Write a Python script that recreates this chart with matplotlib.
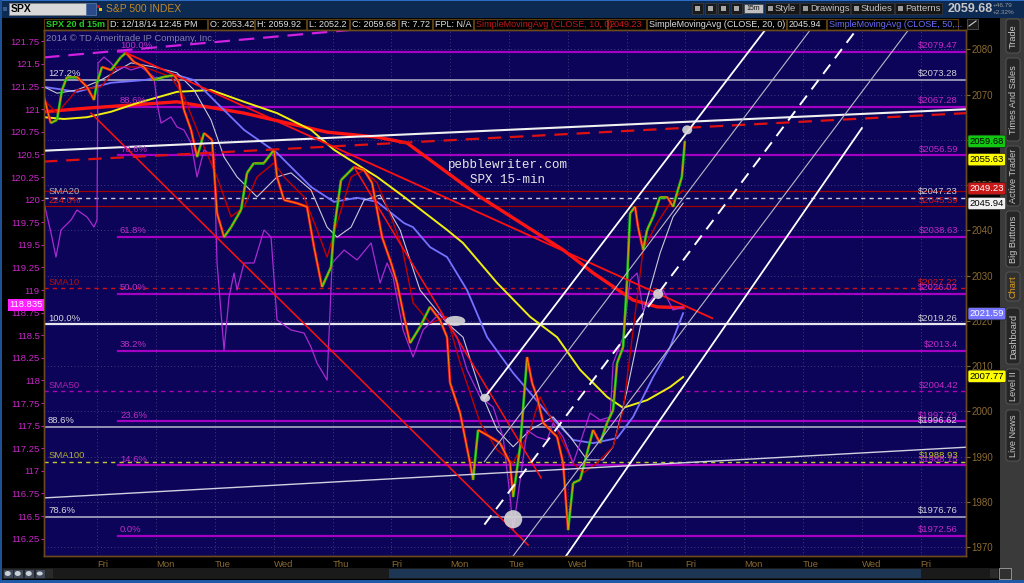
import numpy as np
import matplotlib
matplotlib.use("Agg")
import matplotlib.pyplot as plt
from matplotlib.collections import LineCollection
from matplotlib.patches import Rectangle, Ellipse, FancyBboxPatch
from matplotlib.transforms import blended_transform_factory as blend

plt.rcParams['font.family'] = ['Liberation Sans', 'DejaVu Sans']

# ---------------- data ----------------
day_labels = ['Fri', 'Mon', 'Tue', 'Wed', 'Thu', 'Fri', 'Mon', 'Tue', 'Wed', 'Thu',
              'Fri', 'Mon', 'Tue', 'Wed', 'Fri']
day_ticks = list(range(len(day_labels)))

price_day = [-0.906, -0.793, -0.685, -0.600, -0.515, -0.345, -0.175, -0.056, -0.005, 0.080,
             0.233, 0.403, 0.488, 0.624, 0.794, 0.964, 1.134, 1.304, 1.389, 1.474,
             1.594, 1.696, 1.815, 1.951, 2.036, 2.155, 2.274, 2.444, 2.546, 2.665,
             2.835, 3.005, 3.056, 3.175, 3.396, 3.566, 3.685, 3.821, 3.974, 4.025,
             4.144, 4.366, 4.536, 4.672, 4.757, 4.842, 4.995, 5.097, 5.216, 5.318,
             5.488, 5.658, 5.828, 5.947, 5.998, 6.168, 6.338, 6.389, 6.474, 6.678,
             6.849, 7.019, 7.070, 7.189, 7.308, 7.393, 7.478, 7.580, 7.699, 7.818,
             7.920, 8.005, 8.090, 8.209, 8.328, 8.430, 8.549, 8.668, 8.770, 8.838,
             8.940, 9.008, 9.059, 9.144, 9.195, 9.280, 9.348, 9.450, 9.569, 9.688,
             9.790, 9.871, 9.939, 9.990]
price_val = [2069.5, 2063.7, 2064.4, 2071.0, 2073.9, 2073.9, 2071.7, 2068.8, 2072.6, 2076.1,
             2075.4, 2078.3, 2079.2, 2077.2, 2076.1, 2073.2, 2073.9, 2074.3, 2072.6, 2066.6,
             2062.2, 2056.2, 2061.5, 2060.0, 2043.8, 2038.5, 2040.7, 2044.5, 2052.7, 2054.9,
             2054.9, 2057.8, 2051.8, 2046.7, 2046.0, 2045.2, 2036.3, 2027.5, 2031.9, 2040.1,
             2051.1, 2054.0, 2053.3, 2050.5, 2044.5, 2038.5, 2032.8, 2028.4, 2020.9, 2015.1,
             2018.7, 2023.1, 2020.2, 2016.4, 2006.3, 1999.7, 1988.6, 1984.9, 1995.9, 1994.4,
             1993.0, 1988.6, 1981.1, 1992.2, 2012.0, 2006.3, 2003.2, 1997.5, 1995.9, 1994.4,
             1988.6, 1973.8, 1984.2, 1984.9, 1990.8, 1995.9, 1993.0, 1997.5, 2000.3, 2010.7,
             2014.2, 2029.0, 2043.8, 2045.2, 2040.7, 2035.7, 2040.1, 2043.0, 2047.4, 2047.4,
             2045.2, 2048.9, 2051.8, 2059.7]

sma10_day = [-0.906, -0.685, -0.345, 0.063, 0.335, 0.794, 1.253, 1.474, 1.764, 2.036,
             2.274, 2.495, 2.716, 3.005, 3.175, 3.515, 3.736, 3.907, 4.077, 4.315,
             4.536, 4.757, 4.995, 5.182, 5.369, 5.658, 5.947, 6.168, 6.509, 6.798,
             7.070, 7.359, 7.529, 7.818, 8.090, 8.260, 8.498, 8.770, 8.940, 9.110,
             9.280, 9.518, 9.739, 9.960]
sma10_val = [2068.8, 2065.9, 2071.0, 2071.7, 2076.1, 2076.1, 2073.9, 2069.5, 2060.0, 2051.8,
             2043.0, 2045.2, 2051.8, 2054.9, 2051.8, 2047.4, 2040.1, 2034.1, 2041.6, 2051.8,
             2053.3, 2050.5, 2043.0, 2036.3, 2024.0, 2019.5, 2020.9, 2010.7, 1997.5, 1991.5,
             1988.6, 1995.9, 2003.2, 1995.9, 1988.6, 1986.4, 1988.6, 1992.2, 2000.3, 2018.0,
             2035.7, 2041.6, 2046.0, 2048.9]

sma20_day = [-0.906, -0.685, -0.345, 0.063, 0.573, 0.964, 1.355, 1.645, 1.934, 2.155,
             2.376, 2.716, 3.056, 3.294, 3.634, 3.907, 4.077, 4.315, 4.536, 4.808,
             5.148, 5.488, 5.947, 6.219, 6.509, 6.798, 7.070, 7.359, 7.750, 8.039,
             8.328, 8.600, 8.770, 9.008, 9.280, 9.569, 9.790, 9.960]
sma20_val = [2071.7, 2070.3, 2071.0, 2073.2, 2077.0, 2076.1, 2074.8, 2071.0, 2064.4, 2056.2,
             2051.8, 2047.4, 2051.8, 2052.7, 2048.9, 2040.7, 2038.5, 2040.7, 2046.7, 2047.8,
             2040.1, 2026.8, 2019.5, 2016.4, 2004.7, 1995.9, 1992.2, 1995.9, 1998.8, 1994.4,
             1989.3, 1989.3, 1992.2, 2004.7, 2021.7, 2035.0, 2043.0, 2046.0]

sma50_day = [-0.906, -0.345, 0.233, 0.794, 1.355, 1.645, 2.036, 2.495, 3.056, 3.634,
             4.025, 4.417, 4.757, 5.216, 5.369, 5.658, 5.947, 6.287, 6.628, 7.070,
             7.648, 8.090, 8.430, 8.838, 9.110, 9.450, 9.739, 9.960]
sma50_val = [2071.7, 2070.6, 2072.6, 2073.2, 2074.3, 2073.2, 2068.1, 2062.2, 2057.1, 2049.6,
             2046.3, 2047.2, 2046.3, 2041.6, 2040.7, 2036.3, 2034.1, 2026.8, 2016.4, 2008.5,
             1999.7, 1993.7, 1993.0, 1994.1, 1998.8, 2007.6, 2014.2, 2021.7]

sma100_day = [-0.906, -0.566, -0.175, 0.233, 0.675, 1.355, 1.934, 2.495, 3.056, 3.634,
              4.025, 4.484, 4.757, 5.216, 5.947, 6.219, 6.797, 7.359, 7.818, 8.209,
              8.668, 8.940, 9.348, 9.739, 9.960]
sma100_val = [2065.0, 2064.6, 2065.0, 2066.2, 2068.1, 2070.6, 2071.0, 2068.4, 2065.9, 2062.2,
              2057.8, 2054.0, 2051.8, 2047.4, 2040.1, 2037.2, 2028.4, 2020.9, 2016.4, 2009.2,
              2003.2, 2000.8, 2002.5, 2005.4, 2007.6]

sma200_day = [-0.906, -0.175, 1.355, 2.495, 3.907, 4.757, 5.267, 6.509, 7.920, 8.430,
              9.110, 9.520, 9.960]
sma200_val = [2066.2, 2067.0, 2068.4, 2065.9, 2061.7, 2060.6, 2059.3, 2047.4, 2035.7, 2030.6,
              2024.6, 2023.1, 2022.9]

jpy_day = [-0.906, -0.787, -0.702, -0.617, -0.447, -0.345, -0.175, -0.056, -0.005, 0.012,
           0.114, 0.233, 0.335, 0.454, 0.573, 0.743, 0.964, 1.015, 1.083, 1.253,
           1.355, 1.474, 1.594, 1.696, 1.815, 1.985, 2.036, 2.155, 2.240, 2.325,
           2.376, 2.495, 2.665, 2.835, 2.954, 3.056, 3.294, 3.515, 3.634, 3.736,
           3.907, 3.992, 4.196, 4.417, 4.655, 4.808, 4.927, 5.029, 5.199, 5.369,
           5.539, 5.828, 6.117, 6.287, 6.509, 6.730, 6.900, 7.019, 7.070, 7.189,
           7.308, 7.478, 7.648, 7.750, 7.920, 8.090, 8.209, 8.378, 8.549, 8.719,
           8.770, 8.940, 9.059, 9.178, 9.280, 9.450, 9.620, 9.790, 9.960]
jpy_val = [119.962, 119.631, 119.365, 119.664, 119.774, 119.885, 119.808, 119.697, 119.774, 121.511,
           121.577, 121.511, 121.434, 121.467, 121.434, 121.467, 121.356, 121.069, 120.847, 120.914,
           120.803, 120.770, 120.626, 120.250, 120.549, 120.471, 119.299, 118.336, 118.923, 119.188,
           119.000, 119.299, 119.299, 119.664, 119.586, 118.668, 118.558, 118.524, 118.369, 118.192,
           118.004, 119.299, 119.442, 119.332, 119.520, 119.077, 119.299, 119.144, 118.558, 118.259,
           118.558, 118.746, 118.480, 118.115, 117.816, 117.706, 117.374, 116.710, 116.345, 116.898,
           117.451, 117.374, 117.341, 117.529, 117.374, 117.086, 117.308, 117.639, 117.562, 117.595,
           118.192, 118.480, 119.111, 119.188, 118.779, 118.923, 119.000, 118.779, 118.812]

fib_mag_val = [2079.47, 2067.28, 2056.59, 2038.63, 2026.02, 2013.4, 1997.79, 1988.15, 1972.56]
fib_mag_pct = ['100.0%', '88.6%', '78.6%', '61.8%', '50.0%', '38.2%', '23.6%', '14.6%', '0.0%']
fib_wht_val = [2073.28, 2019.26, 1996.62, 1976.76]
fib_wht_pct = ['127.2%', '100.0%', '88.6%', '78.6%']

level_val = [2048.7, 2047.23, 2045.39, 2027.22, 2004.42, 1988.93]
level_lbl = ['', 'SMA20', '224.0%', 'SMA10', 'SMA50', 'SMA100']

dollar_val = [2079.47, 2073.28, 2067.28, 2056.59, 2047.23, 2045.39, 2038.63, 2027.22, 2026.02,
              2019.26, 2013.4, 2004.42, 1997.79, 1996.62, 1988.93, 1988.15, 1976.76, 1972.56]
dollar_kind = ['m', 'w', 'm', 'm', 'w', 'r', 'm', 'r', 'm', 'w', 'm', 'm', 'm', 'w', 'y', 'm', 'w', 'm']

trend_d0 = [-0.906, -0.906, -0.906, -0.906, 0.490, -0.107, 4.366, 6.582, 6.582, 6.582, 7.070, 7.970]
trend_v0 = [1980.9, 2057.6, 2055.2, 2078.2, 2079.2, 2065.9, 2054.0, 2003.0, 1988.9, 1975.0, 1968.07, 1968.07]
trend_d1 = [14.77, 14.77, 14.77, 5.147, 10.455, 7.325, 7.546, 11.355, 12.121, 12.903, 13.79, 13.0]
trend_v1 = [1992.1, 2066.75, 2065.9, 2085.26, 2020.6, 1970.5, 1985.3, 2084.26, 2084.26, 2084.26, 2084.26, 2062.6]

oval_day = [6.087, 6.594, 7.070, 9.536, 10.03]
oval_val = [2020.0, 2003.0, 1976.2, 2025.95, 2062.2]

badge_val = [2059.68, 2055.63, 2049.23, 2045.94, 2021.59, 2007.77]
jpy_last = 118.835

spx_ticks = [1970, 1980, 1990, 2000, 2010, 2020, 2030, 2040, 2050, 2060, 2070, 2080]
jpy_ticks = [116.25, 116.5, 116.75, 117, 117.25, 117.5, 117.75, 118, 118.25, 118.5, 118.75,
             119, 119.25, 119.5, 119.75, 120, 120.25, 120.5, 120.75, 121, 121.25, 121.5, 121.75]

# ---------------- figure ----------------
W, H = 1024, 583
fig = plt.figure(figsize=(W / 100, H / 100), dpi=100)
fig.patch.set_facecolor('#000000')

ui = fig.add_axes([0, 0, 1, 1])
ui.set_xlim(0, W); ui.set_ylim(H, 0); ui.axis('off'); ui.set_zorder(0)

BG = '#0c0458'
BROWN = '#8a6a32'
ax = fig.add_axes([44 / W, (H - 556) / H, (966 - 44) / W, (556 - 30) / H])
ax.set_zorder(2)
ax.set_facecolor(BG)
ax.set_xlim(-0.906, 14.77)
ax.set_ylim(1968.07, 2084.26)
ax2 = ax.twinx()
ax2.set_ylim(116.058, 121.876)
for a in (ax, ax2):
    for s in a.spines.values():
        s.set_color('#6a4a1c'); s.set_linewidth(1.0)

ax.yaxis.tick_right()
ax.set_yticks(spx_ticks)
ax.set_yticklabels([str(t) for t in spx_ticks])
ax.tick_params(axis='y', colors=BROWN, labelsize=7, length=3, pad=1, labelcolor=BROWN)
ax2.yaxis.tick_left()
ax2.set_yticks(jpy_ticks)
ax2.set_yticklabels([f'{t:g}' for t in jpy_ticks])
ax2.tick_params(axis='y', colors='#c020c0', labelsize=6.8, length=2, pad=1, labelcolor='#c828c8')
ax.set_xticks(day_ticks)
ax.set_xticklabels(day_labels)
ax.tick_params(axis='x', colors=BROWN, labelsize=6.8, length=0, pad=3, labelcolor=BROWN)
for lab in ax.get_xticklabels():
    lab.set_ha('left')

# grid
for d in day_ticks:
    ax.axvline(d, color='#50508a', lw=0.6, ls=(0, (1, 3)), zorder=0.5)
for t in spx_ticks:
    ax.axhline(t, color='#50508a', lw=0.6, ls=(0, (1, 3)), zorder=0.5)

xb = blend(ax.transAxes, ax.transData)

# horizontal fib levels
for v, p in zip(fib_mag_val, fib_mag_pct):
    ax.plot([0.36, 14.77], [v, v], color='#a400c4', lw=1.6, zorder=1)
    ax.annotate(p, (0.386, v), xytext=(0, 1), textcoords='offset points', color='#c030c8',
                fontsize=6.8, va='bottom', ha='left', zorder=8)
for i, (v, p) in enumerate(zip(fib_wht_val, fib_wht_pct)):
    ax.axhline(v, color='#e6e6f0' if i == 1 else '#b8b8cc', lw=1.6 if i == 1 else 1.1, zorder=1.2)
    ax.annotate(p, (-0.838, v), xytext=(0, 1), textcoords='offset points', color='#d8d8e0',
                fontsize=6.8, va='bottom', ha='left', zorder=8)

lvl_style = [('#a00000', '-', 0.9), ('#c8c8d8', (0, (3, 3)), 1.0), ('#a00000', '-', 0.9),
             ('#d01010', (0, (3, 3)), 1.0), ('#b000b8', (0, (3, 3)), 1.0), ('#c8c830', (0, (3, 3)), 1.0)]
lvl_txt = ['#b0b0b0', '#b0b0b0', '#d02020', '#b01010', '#b020b0', '#b0b030']
for v, l, (c, ls, lw), tc in zip(level_val, level_lbl, lvl_style, lvl_txt):
    ax.axhline(v, color=c, ls=ls, lw=lw, zorder=1.1)
    if l:
        ax.annotate(l, (-0.825, v), xytext=(0, 1), textcoords='offset points', color=tc,
                    fontsize=6.8, va='bottom', ha='left', zorder=8)

kind_col = {'m': '#c428c8', 'w': '#d0d0d8', 'r': '#d01818', 'y': '#c8c820'}
for v, k in zip(dollar_val, dollar_kind):
    ax.annotate(f'${v:g}', (0.9915, v), xycoords=xb, xytext=(0, 1), textcoords='offset points',
                color=kind_col[k], fontsize=6.8, va='bottom', ha='right', zorder=8)

# moving averages
ax.plot(sma200_day, sma200_val, color='#ff1414', lw=2.4, zorder=2.2)
ax.plot(sma100_day, sma100_val, color='#eeee10', lw=1.4, zorder=2.3)
ax.plot(sma50_day, sma50_val, color='#7472ff', lw=1.3, zorder=2.4)
ax.plot(sma20_day, sma20_val, color='#c8c8d8', lw=0.8, zorder=2.5)
ax.plot(sma10_day, sma10_val, color='#c00000', lw=1.0, zorder=2.6)

# second instrument on left scale
jtr = blend(ax.transData, ax2.transData)
ax.plot(jpy_day, jpy_val, color='#a82ad0', lw=0.9, transform=jtr, zorder=3)

# price
pts = np.column_stack([price_day, price_val])
segs = [pts[i:i + 2] for i in range(len(pts) - 1)]
cols = ['#10c010' if pts[i + 1, 1] >= pts[i, 1] else '#f01818' for i in range(len(pts) - 1)]
ax.add_collection(LineCollection(segs, colors=cols, linewidths=1.9, zorder=4))
ax.plot(price_day, price_val, color='#ff9a00', lw=0.7, alpha=0.85, zorder=4.1)

# trendlines / channel
tr_style = [('#d0d0e0', '-', 1.0), ('#f0f0f0', '-', 1.5), ('#e01010', (0, (6, 4)), 1.6),
            ('#d020e0', (0, (7, 4)), 1.6), ('#ff1010', '-', 1.3), ('#ff1010', '-', 1.1),
            ('#ff1010', '-', 1.1), ('#ffffff', '-', 1.3), ('#b8b8c8', '-', 0.8),
            ('#ffffff', (0, (6, 4)), 1.4), ('#b8b8c8', '-', 0.8), ('#ffffff', '-', 1.3)]
for d0, v0, d1, v1, (c, ls, lw) in zip(trend_d0, trend_v0, trend_d1, trend_v1, tr_style):
    ax.plot([d0, d1], [v0, v1], color=c, ls=ls, lw=lw, zorder=5)

oval_size = [(0.34, 2.2), (0.17, 1.8), (0.31, 4.0), (0.17, 2.2), (0.17, 2.0)]
for d, v, (w, h) in zip(oval_day, oval_val, oval_size):
    ax.add_patch(Ellipse((d, v), w, h, facecolor='#d8d8d8', edgecolor='none', alpha=0.9, zorder=6))

ax.text(-0.87, 2082.4, '2014 \u00a9 TD Ameritrade IP Company, Inc.', color='#8080a8',
        fontsize=6.8, va='center', ha='left', zorder=8)
ax.text(0.503, 0.729, 'pebblewriter.com\nSPX 15-min', transform=ax.transAxes, color='#e8e8e8',
        fontsize=9, family='Liberation Mono', ha='center', va='center', linespacing=1.25,
        zorder=8)

# badges on axes
badge_fc = ['#10c810', '#ffff00', '#c81818', '#f0f0f0', '#7474ff', '#ffff00']
badge_tc = ['#000000', '#000000', '#ffffff', '#000000', '#ffffff', '#000000']
for v, fc, tc in zip(badge_val, badge_fc, badge_tc):
    ax.text(1.004, v, f'{v:.2f}', transform=xb, color=tc, fontsize=6.8, va='center', ha='left',
            clip_on=False, zorder=20,
            bbox=dict(boxstyle='round,pad=0.18', fc=fc, ec='#202020', lw=0.5))
ax2.text(-0.0015, jpy_last, f'{jpy_last:.3f}', transform=blend(ax.transAxes, ax2.transData),
         color='#ffffff', fontsize=6.8, va='center', ha='right', clip_on=False, zorder=20,
         bbox=dict(boxstyle='square,pad=0.15', fc='#ff20ff', ec='none'))

# ---------------- UI chrome ----------------
ui.add_patch(Rectangle((0, 0), W, 18, fc='#0c2a52', ec='none'))
ui.add_patch(Rectangle((0, 0), W, 1.2, fc='#2c6cc4', ec='none'))
ui.add_patch(Rectangle((0, 0), 2.2, H, fc='#1e5294', ec='none', zorder=3))
ui.add_patch(Rectangle((0, 580), W, 3, fc='#1e5aa8', ec='none', zorder=3))
ui.add_patch(Rectangle((2, 18), W, 12, fc='#000000', ec='none'))
ui.add_patch(Rectangle((3, 7), 4, 4, fc='#3a5a8a', ec='none'))
ui.add_patch(Rectangle((9, 3), 77, 11.5, fc='#d8d8d8', ec='#808080', lw=0.5))
ui.text(11, 9, 'SPX', color='#000000', fontsize=7.5, va='center', ha='left', fontweight='bold')
ui.add_patch(Rectangle((86, 3), 10, 11.5, fc='#2a4a8a', ec='#6080b0', lw=0.5))
ui.add_patch(Rectangle((97, 5), 3, 3, fc='#d01010', ec='none'))
ui.add_patch(Rectangle((99, 8), 3, 3, fc='#e0d010', ec='none'))
ui.text(106, 9, 'S&P 500 INDEX', color='#c08828', fontsize=7.5, va='center', ha='left')

for x0, x1 in [(692, 703), (705, 716), (718, 729), (731, 742)]:
    ui.add_patch(Rectangle((x0, 3), x1 - x0, 11, fc='#1a1a1a', ec='#404040', lw=0.5))
    ui.add_patch(Rectangle((x0 + 3, 6), x1 - x0 - 6, 5, fc='#a8a8a8', ec='none'))
ui.add_patch(Rectangle((744, 4), 19, 9, fc='#c0c0c0', ec='#404040', lw=0.5))
ui.text(753.5, 8.7, '15m', color='#101010', fontsize=5, va='center', ha='center')
for x0, x1, t in [(765, 799, 'Style'), (800, 850, 'Drawings'), (851, 894, 'Studies'),
                  (895, 942, 'Patterns')]:
    ui.add_patch(Rectangle((x0, 3), x1 - x0, 11, fc='#161616', ec='#3a3a3a', lw=0.5))
    ui.add_patch(Rectangle((x0 + 3, 6), 5, 5, fc='#9a9a9a', ec='none'))
    ui.text(x0 + 10, 8.7, t, color='#c4c4c4', fontsize=6.8, va='center', ha='left')
ui.text(948, 9, '2059.68', color='#c8c8c8', fontsize=9, va='center', ha='left', fontweight='bold')
ui.text(993, 5.5, '+46.79', color='#9a9a9a', fontsize=4.6, va='center', ha='left')
ui.text(993, 13, '+2.32%', color='#9a9a9a', fontsize=4.6, va='center', ha='left')

boxes = [(44, 107, 'SPX 20 d 15m', '#24cc24'), (108, 207, 'D: 12/18/14 12:45 PM', '#e0e0e0'),
         (208, 254, 'O: 2053.42', '#e0e0e0'), (255, 306, 'H: 2059.92', '#e0e0e0'),
         (307, 349, 'L: 2052.2', '#e0e0e0'), (350, 398, 'C: 2059.68', '#e0e0e0'),
         (399, 432, 'R: 7.72', '#e0e0e0'), (433, 473, 'FPL: N/A', '#e0e0e0'),
         (474, 607, 'SimpleMovingAvg (CLOSE, 10, 0)', '#c01818'), (608, 646, '2049.23', '#d01818'),
         (647, 786, 'SimpleMovingAvg (CLOSE, 20, 0)', '#e0e0e0'), (787, 826, '2045.94', '#e0e0e0'),
         (827, 958, 'SimpleMovingAvg (CLOSE, 50,...', '#6c6cff')]
for x0, x1, t, c in boxes:
    ui.add_patch(Rectangle((x0, 18.5), x1 - x0, 11, fc='#000000', ec='#5a3c12', lw=0.8))
    ui.text(x0 + 2, 24.2, t, color=c, fontsize=6.5, va='center', ha='left',
            fontweight='bold' if x0 == 44 else 'normal')
ui.add_patch(Rectangle((967, 18.5), 11, 10, fc='#1a1a1a', ec='#606060', lw=0.5))
ui.plot([969, 976], [26, 21], color='#d0d0d0', lw=0.8)

# right sidebar
ui.add_patch(Rectangle((1000, 18), 24, 565, fc='#3a3a3a', ec='none'))
tabs = [(18, 54, 'Trade'), (57, 142, 'Times And Sales'), (145, 207, 'Active Trader'),
        (210, 268, 'Big Buttons'), (271, 302, 'Chart'), (307, 365, 'Dashboard'),
        (368, 405, 'Level II'), (409, 462, 'Live News')]
for y0, y1, t in tabs:
    ui.add_patch(FancyBboxPatch((1006, y0 + 1), 14, y1 - y0 - 2, boxstyle='round,pad=0,rounding_size=3',
                                fc='#262626' if t != 'Chart' else '#303030', ec='#5a5a5a', lw=0.6))
    ui.text(1013.5, (y0 + y1) / 2, t, color='#e0a020' if t == 'Chart' else '#c8c8c8',
            fontsize=6.6, rotation=90, va='center', ha='center')

# bottom scrollbar
ui.add_patch(Rectangle((2, 568), 998, 11, fc='#1a1a1a', ec='none'))
ui.add_patch(Rectangle((389, 569), 532, 9, fc='#1c3654', ec='none'))
for i, x0 in enumerate([3, 13, 24, 35]):
    ui.add_patch(Rectangle((x0, 569), 9.5, 9, fc='#404a58', ec='#202020', lw=0.5))
    ui.add_patch(Ellipse((x0 + 4.75, 573.5), 6, 5 if i < 3 else 4, fc='#c8d0d8', ec='none'))
ui.add_patch(Rectangle((46, 569), 7, 9, fc='#2a2a2a', ec='none'))
ui.add_patch(Rectangle((990, 569), 8, 9, fc='#2a2a2a', ec='none'))
ui.add_patch(Rectangle((999, 568), 12, 11, fc='#303030', ec='#a0a0a0', lw=0.6))

fig.savefig('out.png', dpi=100, facecolor=fig.get_facecolor())
